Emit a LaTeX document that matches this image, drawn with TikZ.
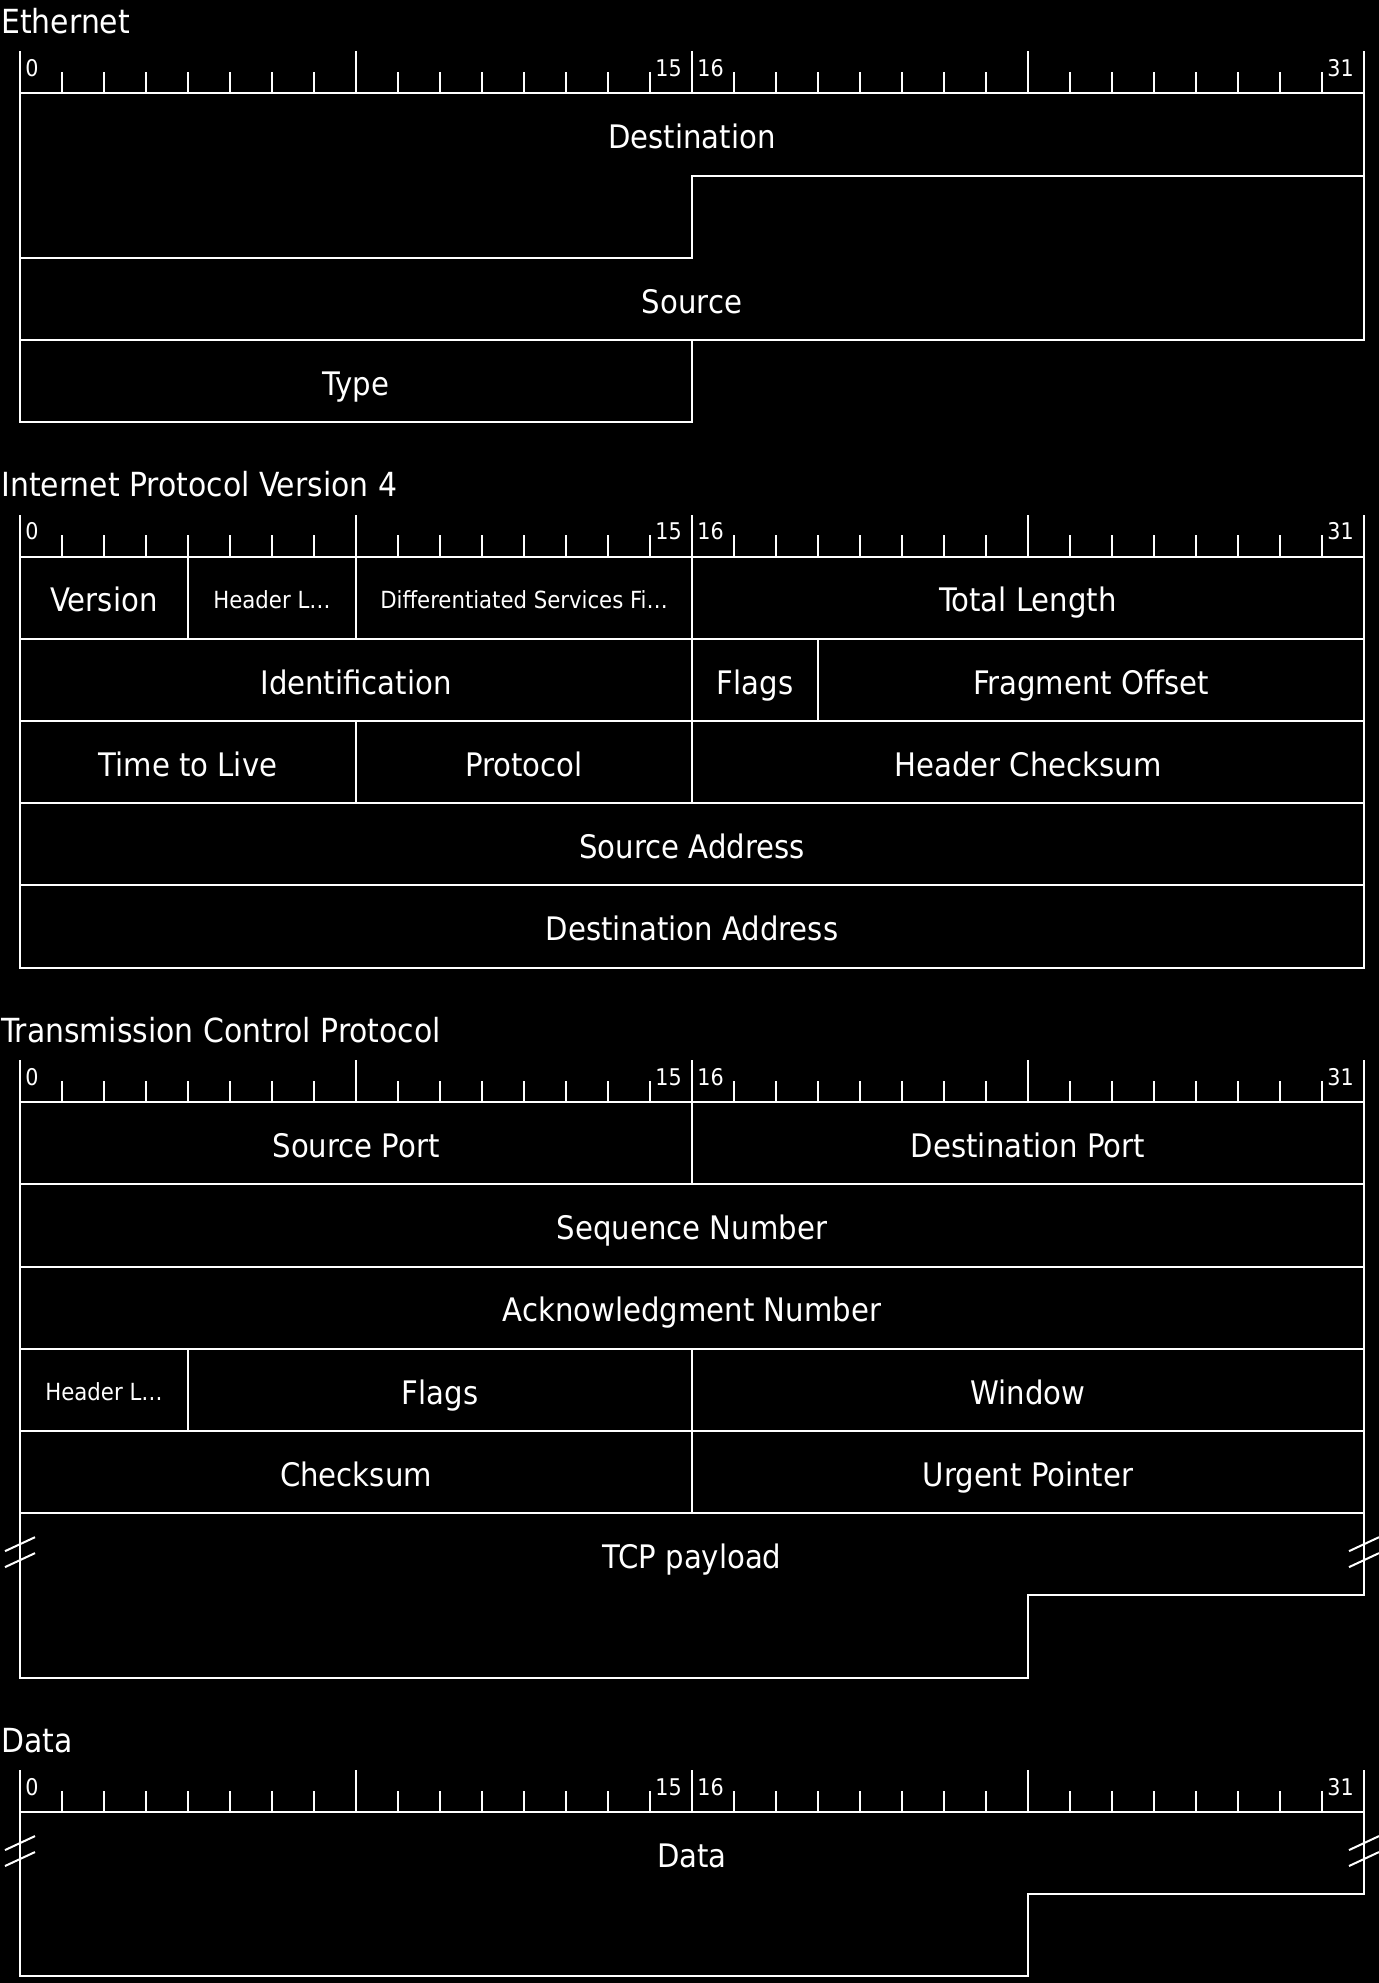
\documentclass[tikz,border=0pt]{standalone}
\usepackage{fontspec}
\newfontfamily\pktfont{DejaVu Sans Condensed}

\tikzset{
  pkt/.style={draw=white, line width=1pt},
  ruletick/.style={draw=white, line width=1pt},
  fieldtext/.style={text=white, inner sep=0pt, yshift=-1.2pt, font=\pktfont\fontsize{16.2}{19}\selectfont, text height=11.8pt, text depth=0pt},
  smalltext/.style={text=white, inner sep=0pt, yshift=-1.2pt, font=\pktfont\fontsize{11.8}{14}\selectfont, text height=8.6pt, text depth=0pt},
  bitnum/.style={text=white, inner sep=0pt, font=\pktfont\fontsize{11.5}{14}\selectfont, anchor=base west},
  sectitle/.style={text=white, inner sep=0pt, font=\pktfont\fontsize{16.6}{19}\selectfont, anchor=base west},
  rows/.style={x=21pt, y=-41.1pt}
}

\begin{document}
\begin{tikzpicture}[x=0.5pt, y=-0.5pt]
%background and page size
\fill [black] (0,0) rectangle (1379,1983);
\useasboundingbox (0,0) rectangle (1379,1983);

%section titles
\node [sectitle] (ethtitle) at (1,33.3) {Ethernet};
\node [sectitle] (iptitle) at (1,496.6) {Internet Protocol Version 4};
\node [sectitle] (tcptitle) at (1,1042.1) {Transmission Control Protocol};
\node [sectitle] (datatitle) at (1,1752) {Data};

%Ethernet
\begin{scope}[shift={(20,93.3)}, rows]
\foreach \i in {0,...,32} \draw [ruletick] (\i,0) -- ++(0,-0.26);
\foreach \i in {0,8,...,32} \draw [ruletick] (\i,0) -- ++(0,-0.511);
\foreach \i in {0,15,16,31} \node [bitnum] (ethbit\i) at (\i+0.12,-0.207) {\i};
\draw [pkt] (0,0) -- (32,0) -- (32,1) -- (16,1) -- (16,2) -- (0,2) -- cycle;
\node [fieldtext] (ethdst) at (16,0.5) {Destination};
\draw [pkt] (16,1) -- (32,1) -- (32,3) -- (0,3) -- (0,2) -- (16,2);
\node [fieldtext] (ethsrc) at (16,2.5) {Source};
\draw [pkt] (0,3) rectangle (16,4);
\node [fieldtext] (ethtype) at (8,3.5) {Type};
\end{scope}

%IPv4
\begin{scope}[shift={(20,556.6)}, rows]
\foreach \i in {0,...,32} \draw [ruletick] (\i,0) -- ++(0,-0.26);
\foreach \i in {0,8,...,32} \draw [ruletick] (\i,0) -- ++(0,-0.511);
\foreach \i in {0,15,16,31} \node [bitnum] (ipbit\i) at (\i+0.12,-0.207) {\i};
%first word
\draw [pkt] (0,0) rectangle (4,1);
\node [fieldtext] (ipver) at (2,0.5) {Version};
\draw [pkt] (4,0) rectangle (8,1);
\node [smalltext] (ipihl) at (6,0.5) {Header L…};
\draw [pkt] (8,0) rectangle (16,1);
\node [smalltext] (ipdsf) at (12,0.5) {Differentiated Services Fi…};
\draw [pkt] (16,0) rectangle (32,1);
\node [fieldtext] (iplen) at (24,0.5) {Total Length};
%second word
\draw [pkt] (0,1) rectangle (16,2);
\node [fieldtext] (ipid) at (8,1.5) {Identification};
\draw [pkt] (16,1) rectangle (19,2);
\node [fieldtext] (ipflags) at (17.5,1.5) {Flags};
\draw [pkt] (19,1) rectangle (32,2);
\node [fieldtext] (ipfrag) at (25.5,1.5) {Fragment Offset};
%third word
\draw [pkt] (0,2) rectangle (8,3);
\node [fieldtext] (ipttl) at (4,2.5) {Time to Live};
\draw [pkt] (8,2) rectangle (16,3);
\node [fieldtext] (ipproto) at (12,2.5) {Protocol};
\draw [pkt] (16,2) rectangle (32,3);
\node [fieldtext] (ipsum) at (24,2.5) {Header Checksum};
%addresses
\draw [pkt] (0,3) rectangle (32,4);
\node [fieldtext] (ipsrc) at (16,3.5) {Source Address};
\draw [pkt] (0,4) rectangle (32,5);
\node [fieldtext] (ipdst) at (16,4.5) {Destination Address};
\end{scope}

%TCP
\begin{scope}[shift={(20,1102.1)}, rows]
\foreach \i in {0,...,32} \draw [ruletick] (\i,0) -- ++(0,-0.26);
\foreach \i in {0,8,...,32} \draw [ruletick] (\i,0) -- ++(0,-0.511);
\foreach \i in {0,15,16,31} \node [bitnum] (tcpbit\i) at (\i+0.12,-0.207) {\i};
\draw [pkt] (0,0) rectangle (16,1);
\node [fieldtext] (tcpsport) at (8,0.5) {Source Port};
\draw [pkt] (16,0) rectangle (32,1);
\node [fieldtext] (tcpdport) at (24,0.5) {Destination Port};
\draw [pkt] (0,1) rectangle (32,2);
\node [fieldtext] (tcpseq) at (16,1.5) {Sequence Number};
\draw [pkt] (0,2) rectangle (32,3);
\node [fieldtext] (tcpack) at (16,2.5) {Acknowledgment Number};
\draw [pkt] (0,3) rectangle (4,4);
\node [smalltext] (tcphl) at (2,3.5) {Header L…};
\draw [pkt] (4,3) rectangle (16,4);
\node [fieldtext] (tcpflags) at (10,3.5) {Flags};
\draw [pkt] (16,3) rectangle (32,4);
\node [fieldtext] (tcpwin) at (24,3.5) {Window};
\draw [pkt] (0,4) rectangle (16,5);
\node [fieldtext] (tcpsum) at (8,4.5) {Checksum};
\draw [pkt] (16,4) rectangle (32,5);
\node [fieldtext] (tcpurg) at (24,4.5) {Urgent Pointer};
%the payload, open ended
\draw [pkt] (0,5) -- (32,5) -- (32,6) -- (24,6) -- (24,7) -- (0,7) -- cycle;
\node [fieldtext] (tcppay) at (16,5.5) {TCP payload};
\foreach \bx in {0,32} \foreach \dy in {-0.097,0.097}
  \draw [pkt] (\bx-0.357,5.475+\dy+0.085) -- (\bx+0.357,5.475+\dy-0.085);
\end{scope}

%Data
\begin{scope}[shift={(20,1812)}, rows]
\foreach \i in {0,...,32} \draw [ruletick] (\i,0) -- ++(0,-0.26);
\foreach \i in {0,8,...,32} \draw [ruletick] (\i,0) -- ++(0,-0.511);
\foreach \i in {0,15,16,31} \node [bitnum] (databit\i) at (\i+0.12,-0.207) {\i};
\draw [pkt] (0,0) -- (32,0) -- (32,1) -- (24,1) -- (24,2) -- (0,2) -- cycle;
\node [fieldtext] (datafield) at (16,0.5) {Data};
\foreach \bx in {0,32} \foreach \dy in {-0.097,0.097}
  \draw [pkt] (\bx-0.357,0.475+\dy+0.085) -- (\bx+0.357,0.475+\dy-0.085);
\end{scope}
\end{tikzpicture}
\end{document}
